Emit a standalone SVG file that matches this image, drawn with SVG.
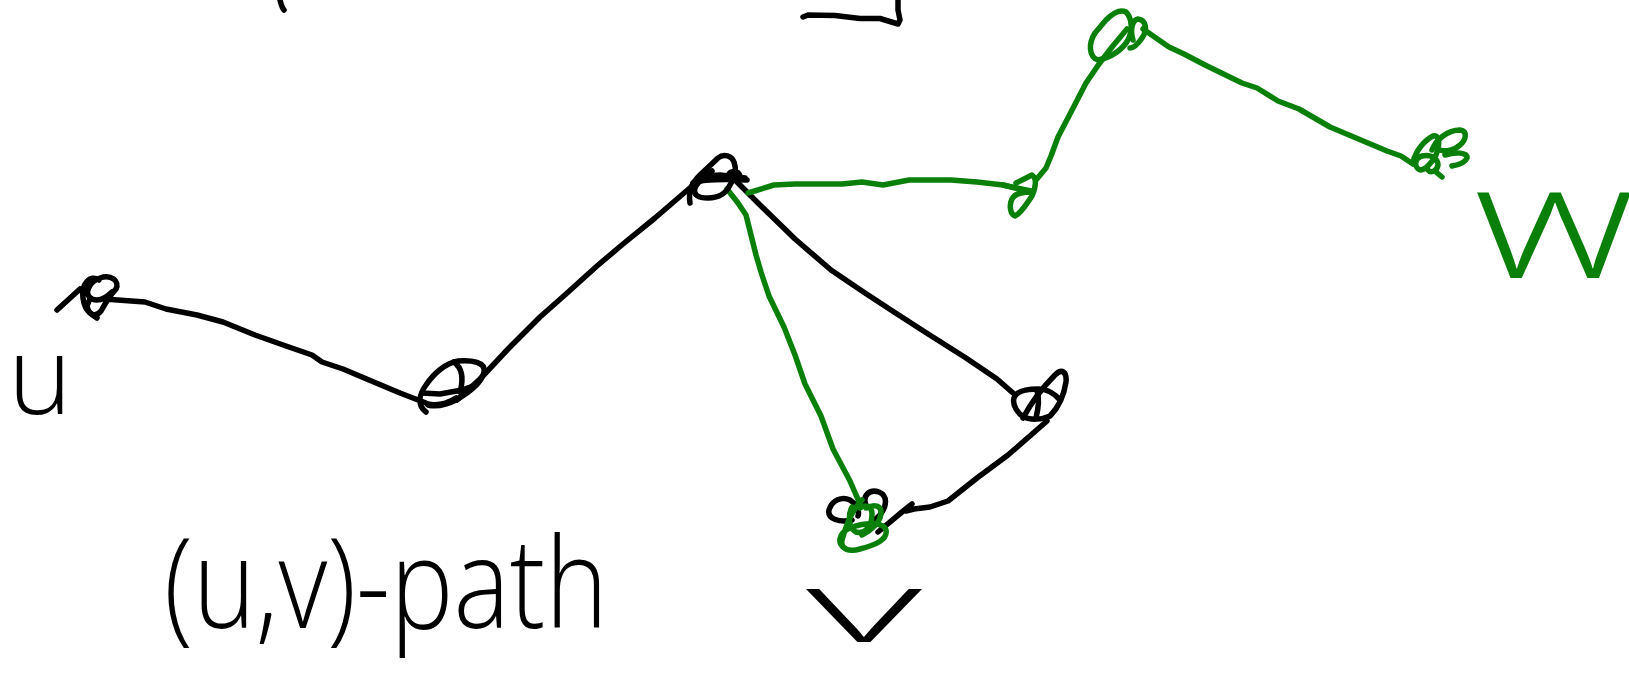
<svg xmlns="http://www.w3.org/2000/svg" width="1629" height="674" viewBox="0 0 1629 674">
<style>
.k{fill:none;stroke:#000;stroke-width:5.5;stroke-linecap:round;stroke-linejoin:round}
.g{fill:none;stroke:#0a800a;stroke-width:5.5;stroke-linecap:round;stroke-linejoin:round}
.tk{font-family:"Open Sans","Liberation Sans",Arial,sans-serif;font-weight:300;fill:#000}
.tg{font-family:"Open Sans","Liberation Sans",Arial,sans-serif;font-weight:300;fill:#0a800a}
</style>
<rect width="1629" height="674" fill="#fff"/>
<g id="marks">
<path class="k" d="M280,0 C281,4 282,8 284,10"/>
<path class="k" d="M803,17 L808,15 L835,15.5 L860,18.5 L880,18.5 L898,24 L900,20 L898,10 L898,0"/>
</g>
<g id="connectors">
<path class="k" d="M57,310 L80,289"/>
<path class="k" d="M104,299 L145,302 L166,309 L197,315 L223,322 L255,335 L286,346 L312,355 L322,362 L343,369 L369,380 L400,393 L426,403"/>
<path class="k" d="M457,400 L480,379 L509,348 L540,317 L566,294 L597,266 L623,244 L655,218 L691,187 L712,171"/>
<path class="k" d="M732,177 L758,203 L795,239 L831,270 L862,291 L894,312 L925,332 L966,358 L997,379 L1013,393"/>
<path class="k" d="M1047,421 L1008,455 L977,478 L948,501 L930,507 L914,509 L906,511"/>
<path class="k" d="M912,504 L902,512 L878,532"/>
<path class="g" d="M727,189 L738,203 L746,215 L750,231 L756,255 L761,272 L769,296 L784,327 L795,355 L805,384 L821,416 L833,449 L850,481 L860,504"/>
<path class="g" d="M748,193 L774,185 L795,184 L842,184 L862,182 L883,185 L909,180 L951,180 L977,182 L1003,185 L1023,190"/>
<path class="g" d="M1036,180 L1046,168 L1051,156 L1058,137 L1070,114 L1086,83 L1099,64 L1112,47 L1127,29"/>
<path class="g" d="M1143,29 L1169,47 L1184,54 L1205,65 L1242,83 L1257,88 L1278,101 L1299,109 L1330,127 L1387,151 L1401,156 L1413,164"/>
</g>
<g id="node-u">
<path class="k" d="M99,280 C90,274 81,284 83,298 C85,312 94,320 101,311 C106,302 110,295 116,289 C120,281 111,274 100,278 C89,282 83,294 92,299 C99,302 106,298 112,292"/>
<path class="k" d="M89,301 C85,307 88,313 97,318"/>
<text class="tk" x="8" y="414" font-size="108" textLength="64" lengthAdjust="spacingAndGlyphs">u</text>
</g>
<g id="node-a">
<path class="k" d="M426,412 C418,406 418,396 426,385 C434,373 446,363 458,361 C472,360 486,362 484,372 C482,382 470,392 456,400 C446,405 436,407 428,405"/>
<path class="k" d="M454,362 C462,368 464,378 460,392"/>
<path class="k" d="M422,393 L440,394 L462,390 L476,385"/>
<path class="k" d="M428,404 C438,406 448,403 456,398"/>
</g>
<g id="node-b">
<path class="k" d="M690,203 C688,190 692,183 700,175 L718,158 C724,153 732,156 734,162 C737,170 735,178 730,185 C725,195 718,198 708,198 C698,198 693,195 695,188 C698,180 708,175 720,175 L745,178"/>
<path class="k" d="M693,183 C700,180 720,179 747,180"/>
<path class="k" d="M728,176 C730,170 738,170 740,176"/>
</g>
<g id="node-c">
<path class="k" d="M1023,418 C1030,405 1042,388 1055,375 C1062,368 1067,372 1066,382 C1064,395 1058,408 1050,416 C1042,420 1030,420 1024,417 C1018,414 1012,405 1014,398 C1016,392 1025,389 1038,389 C1048,389 1056,395 1060,400"/>
<path class="k" d="M1037,391 C1040,400 1038,410 1036,418"/>
</g>
<g id="node-v">
<path class="k" d="M852,520 C840,523 827,519 829,510 C832,500 842,496 850,500 C856,504 860,510 858,516"/>
<path class="k" d="M866,505 C862,495 870,489 879,492 C888,496 887,506 880,515 L868,526"/>
<path class="g" d="M862,500 C852,510 846,525 842,540 C840,550 850,552 860,549 C875,545 888,540 886,530 C884,522 865,522 850,528 C838,533 837,545 845,548"/>
<path class="g" d="M852,507 C848,515 848,528 856,532 C866,535 872,525 872,514 C872,506 865,504 860,508"/>
<path class="g" d="M866,508 C874,504 882,505 881,514 C880,522 872,530 862,535"/>
<text class="tk" x="806" y="642" font-size="100" textLength="116" lengthAdjust="spacingAndGlyphs">v</text>
</g>
<g id="node-d">
<path class="g" d="M1016,183 L1032,175 C1037,178 1036,187 1032,196 C1026,205 1020,214 1015,216 C1010,214 1009,205 1012,199 C1015,193 1022,192 1031,192"/>
<path class="g" d="M1003,185 L1031,191"/>
</g>
<g id="node-e">
<path class="g" d="M1098,60 C1089,57 1088,44 1095,33 L1106,20 C1113,13 1120,9 1126,12 C1132,18 1133,30 1128,40 C1122,50 1112,57 1098,60"/>
<path class="g" d="M1133,40 C1130,30 1132,20 1138,19 C1146,20 1148,30 1142,38 C1138,44 1134,48 1130,48"/>
</g>
<g id="node-f">
<path class="g" d="M1413,162 C1416,150 1425,140 1433,136 C1440,134 1440,145 1436,155 C1432,163 1425,170 1420,170 C1414,168 1414,158 1422,156 C1430,154 1438,158 1438,165 C1437,172 1430,173 1428,170"/>
<path class="g" d="M1432,150 C1436,140 1447,130 1460,130 C1468,131 1466,140 1460,145 C1455,150 1445,152 1440,150"/>
<path class="g" d="M1445,155 C1455,152 1468,152 1467,158 C1465,163 1458,165 1452,166"/>
<path class="g" d="M1436,172 L1442,177"/>
<text class="tg" x="1474" y="278" font-size="160" textLength="160" lengthAdjust="spacingAndGlyphs">w</text>
</g>
<g id="label">
<text class="tk" x="164" y="628" font-size="125" textLength="444" lengthAdjust="spacingAndGlyphs">(u,v)-path</text>
</g>
</svg>
